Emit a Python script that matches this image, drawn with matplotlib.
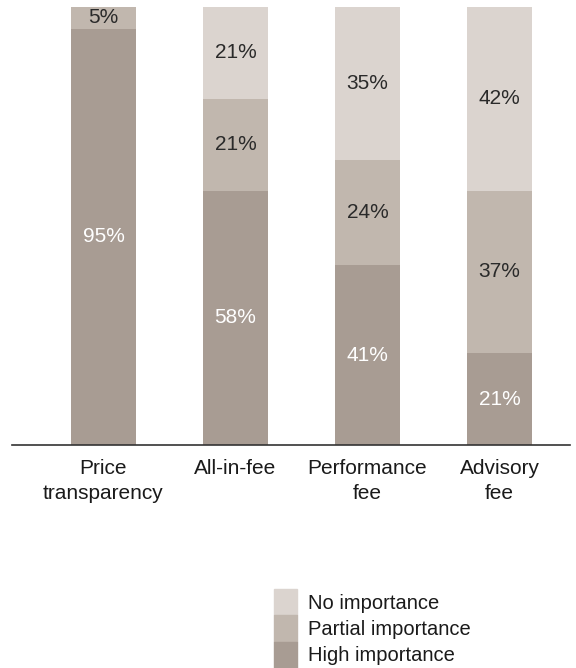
import matplotlib.pyplot as plt
from matplotlib.patches import Patch

plt.rcParams['font.family'] = ['Liberation Sans', 'DejaVu Sans']

categories = ['Price\ntransparency', 'All-in-fee', 'Performance\nfee', 'Advisory\nfee']
high = [95, 58, 41, 21]
partial = [5, 21, 24, 37]
none_ = [0, 21, 35, 42]

c_high = '#a89c93'
c_partial = '#c1b7ae'
c_none = '#dbd4cf'

fig = plt.figure(figsize=(5.76, 6.68), dpi=100)
ax = fig.add_axes([12/576, 1 - 445/668, 558/576, 438/668])

x = range(len(categories))
w = 0.49
ax.bar(x, high, w, color=c_high)
ax.bar(x, partial, w, bottom=high, color=c_partial)
bottoms = [h + p for h, p in zip(high, partial)]
ax.bar(x, none_, w, bottom=bottoms, color=c_none)

for i in x:
    segs = [(0, high[i], 'white'), (high[i], partial[i], '#2a2a2a'),
            (bottoms[i], none_[i], '#2a2a2a')]
    for base, val, col in segs:
        if val > 0:
            ax.text(i, base + val / 2, f'{val}%', ha='center', va='center',
                    color=col, fontsize=15)

ax.set_xlim(-0.693, 3.534)
ax.set_ylim(0, 100)
ax.set_xticks(list(x))
ax.set_xticklabels(categories, fontsize=15, color='#1a1a1a', linespacing=1.4)
ax.tick_params(axis='x', length=0, pad=10)
ax.set_yticks([])
for s in ['top', 'right', 'left']:
    ax.spines[s].set_visible(False)
ax.spines['bottom'].set_color('#333333')
ax.spines['bottom'].set_linewidth(1.2)

handles = [Patch(color=c_none, label='No importance'),
           Patch(color=c_partial, label='Partial importance'),
           Patch(color=c_high, label='High importance')]
fig.legend(handles=handles, loc='upper left', bbox_to_anchor=(274/576, 1 - 589/668),
           frameon=False, fontsize=14.5, labelspacing=0, handleheight=1.63,
           handlelength=1.15, handletextpad=0.55, borderpad=0, borderaxespad=0,
           labelcolor='#1a1a1a')

fig.savefig('out.png', dpi=100)
